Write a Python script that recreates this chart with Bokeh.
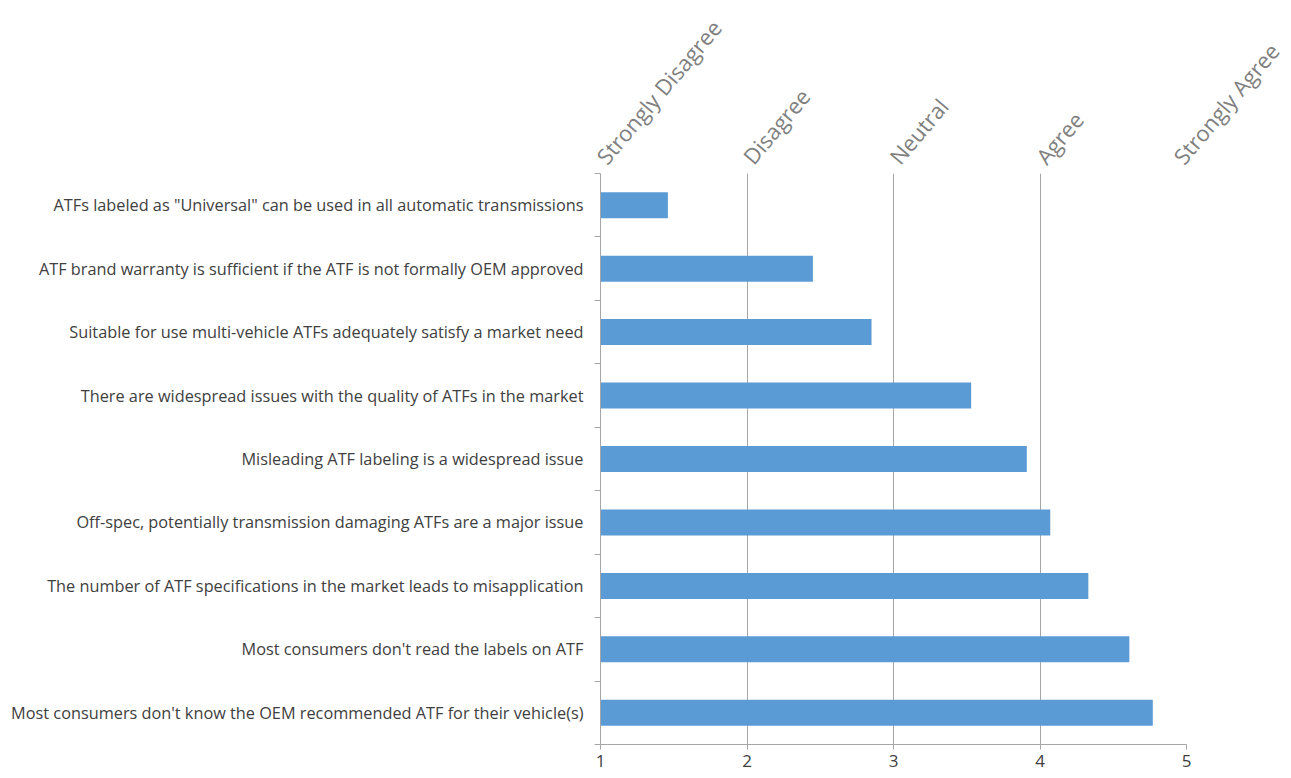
from bokeh.plotting import figure
from bokeh.models import Range1d, LinearAxis, FixedTicker
from bokeh.embed import file_html
from bokeh.resources import INLINE

categories = [
    'ATFs labeled as "Universal" can be used in all automatic transmissions',
    "ATF brand warranty is sufficient if the ATF is not formally OEM approved",
    "Suitable for use multi-vehicle ATFs adequately satisfy a market need",
    "There are widespread issues with the quality of ATFs in the market",
    "Misleading ATF labeling is a widespread issue",
    "Off-spec, potentially transmission damaging ATFs are a major issue",
    "The number of ATF specifications in the market leads to misapplication",
    "Most consumers don't read the labels on ATF",
    "Most consumers don't know the OEM recommended ATF for their vehicle(s)",
]
values = [1.46, 2.45, 2.85, 3.53, 3.91, 4.07, 4.33, 4.61, 4.77]
scale_ticks = [1, 2, 3, 4, 5]
scale_labels = ["Strongly Disagree", "Disagree", "Neutral", "Agree", "Strongly Agree"]

n = len(categories)
ys = [n - i - 0.5 for i in range(n)]

FONT = "Open Sans"

p = figure(width=1285, height=775, output_backend="svg", toolbar_location=None,
           x_range=Range1d(1, 5), y_range=Range1d(0, n),
           x_axis_location="below", y_axis_location="left",
           min_border_left=600, min_border_right=99, min_border_top=173, min_border_bottom=31)
p.outline_line_color = None
p.background_fill_color = "white"
p.border_fill_color = "white"

p.hbar(y=ys, left=1, right=values, height=0.41, fill_color="#5B9BD5", line_color=None)

# bottom axis
xa = p.xaxis[0]
xa.ticker = FixedTicker(ticks=scale_ticks)
xa.axis_line_color = "#a6a6a6"
xa.major_tick_line_color = "#a6a6a6"
xa.major_tick_out = 5
xa.major_tick_in = 0
xa.minor_tick_line_color = None
xa.major_label_text_font = FONT
xa.major_label_text_font_size = "17px"
xa.major_label_text_color = "#404040"
xa.major_label_standoff = 5

# left axis
ya = p.yaxis[0]
ya.ticker = FixedTicker(ticks=ys, minor_ticks=list(range(n + 1)))
ya.major_label_overrides = {y: c for y, c in zip(ys, categories)}
ya.axis_line_color = "#a6a6a6"
ya.major_tick_line_color = None
ya.minor_tick_line_color = "#a6a6a6"
ya.minor_tick_out = 6
ya.minor_tick_in = 0
ya.major_label_text_font = FONT
ya.major_label_text_font_size = "16.3px"
ya.major_label_text_color = "#404040"
ya.major_label_standoff = 11

# top axis with scale names
top = LinearAxis(ticker=FixedTicker(ticks=scale_ticks),
                 major_label_overrides={t: s for t, s in zip(scale_ticks, scale_labels)})
top.axis_line_color = None
top.major_tick_line_color = None
top.minor_tick_line_color = None
top.major_label_orientation = 0.87
top.major_label_text_font = FONT
top.major_label_text_font_size = "22px"
top.major_label_text_color = "#808080"
top.major_label_standoff = 7
p.add_layout(top, "above")

p.xgrid.ticker = FixedTicker(ticks=scale_ticks)
p.xgrid.grid_line_color = "#a6a6a6"
p.ygrid.grid_line_color = None

open("out.html", "w").write(file_html(p, INLINE))
